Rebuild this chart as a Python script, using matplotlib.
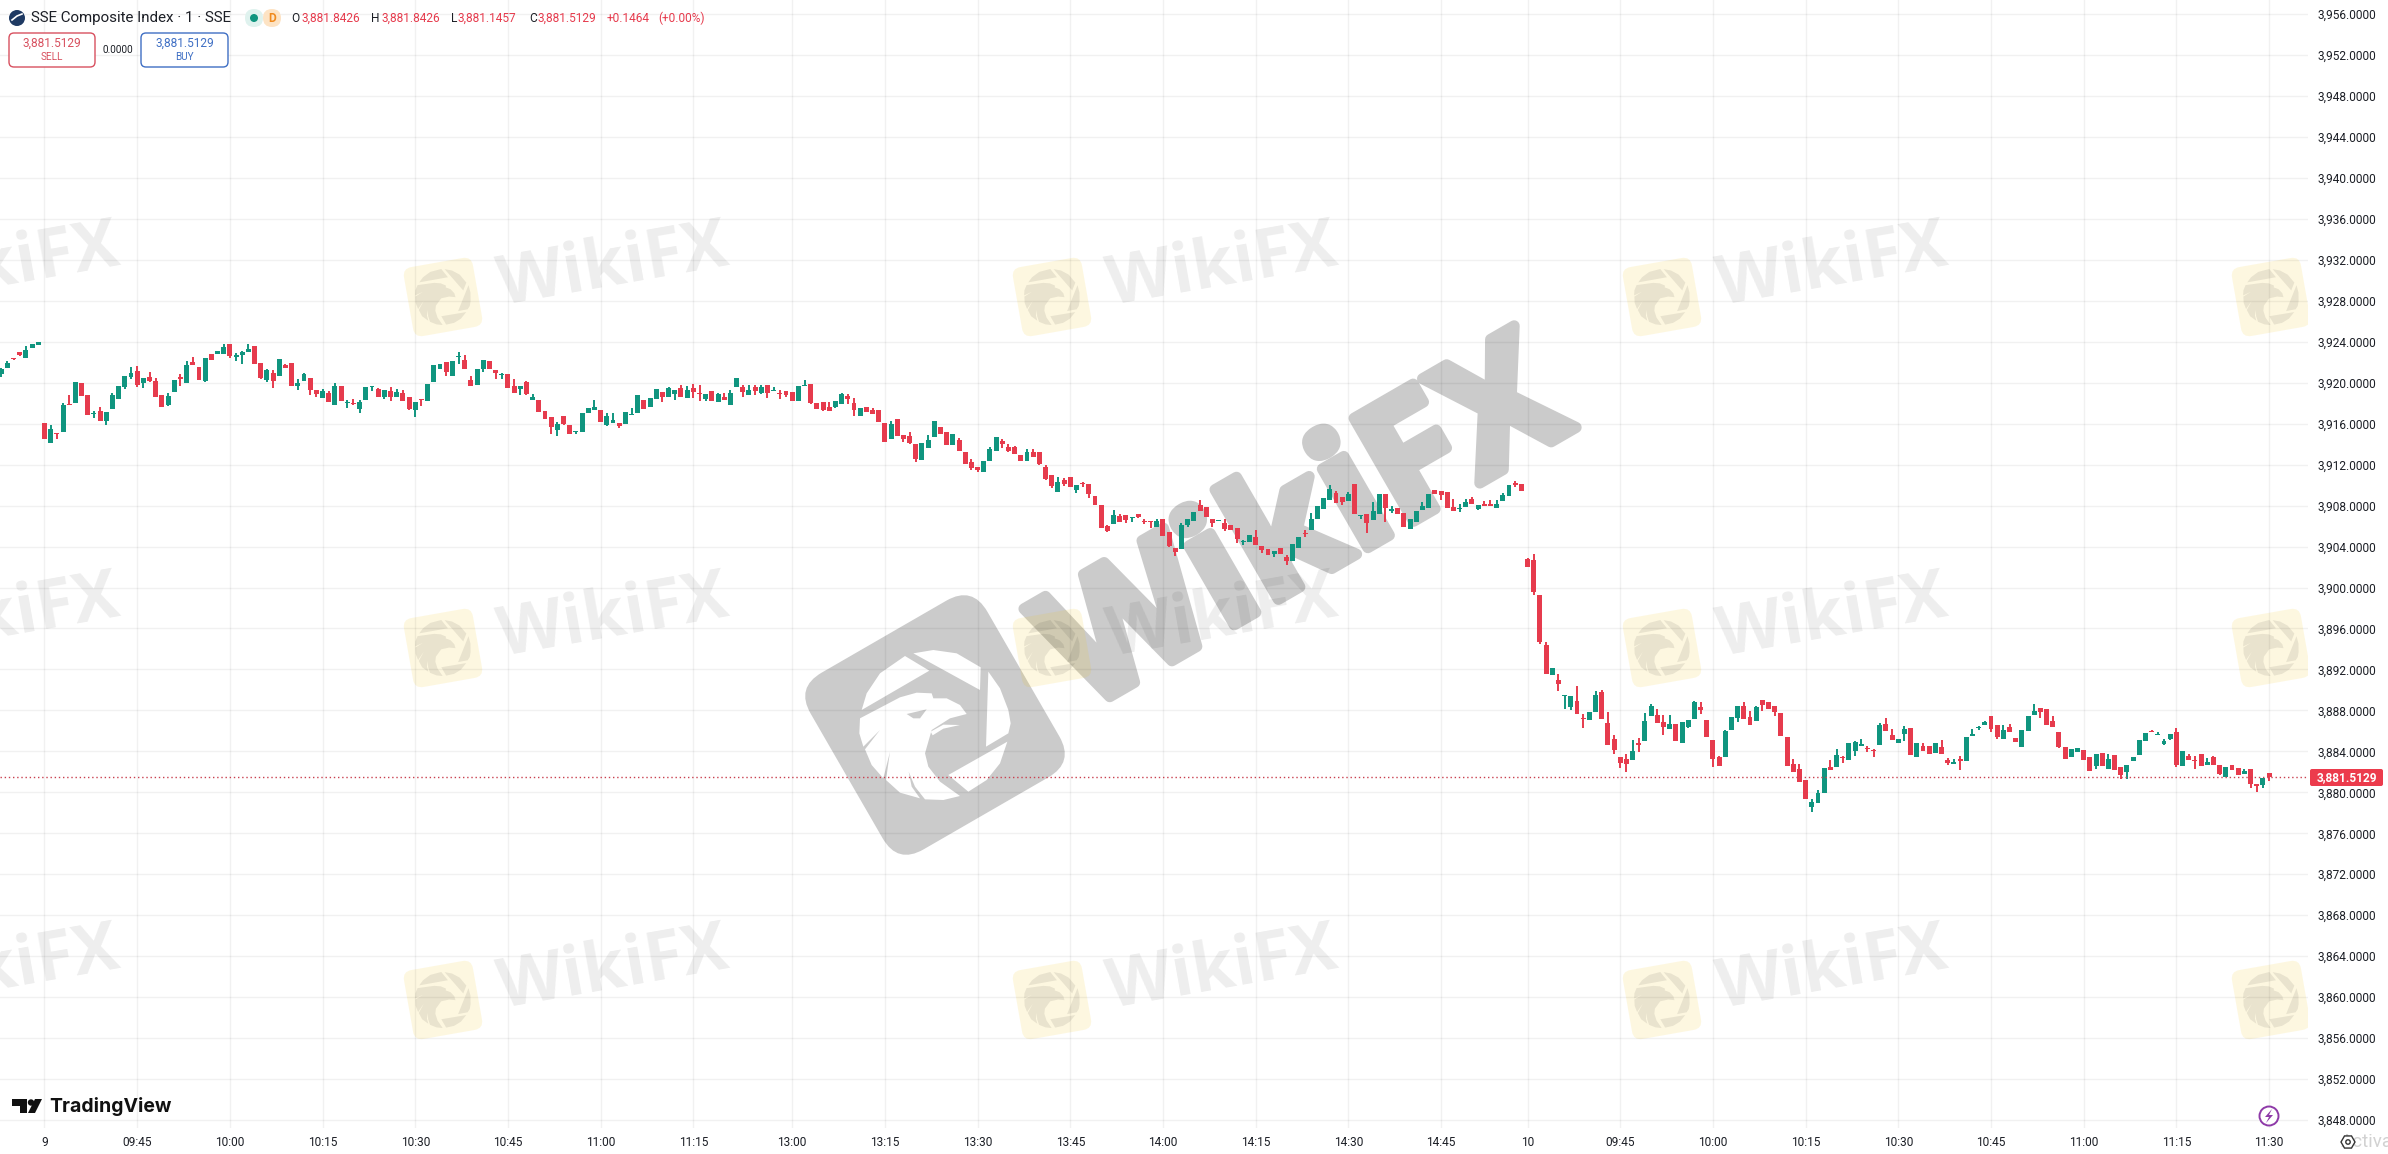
import matplotlib
matplotlib.use('Agg')
import matplotlib.pyplot as plt
import matplotlib.patheffects as pe
import numpy as np
from matplotlib.patches import FancyBboxPatch, Circle, Polygon
from matplotlib.transforms import Affine2D

opens = [
    3920.8, 3921.4, 3922.4, 3923.0, 3922.4, 3923.4, 3923.7,
    3916.1, 3914.1, 3915.1, 3915.2, 3917.85, 3918.0, 3920.0, 3918.75, 3916.9, 3917.2,
    3916.3, 3917.4, 3918.4, 3919.6, 3920.6, 3921.1, 3920.0, 3920.6, 3920.2, 3918.75,
    3917.8, 3919.1, 3920.5, 3920.0, 3922.0, 3921.5, 3920.2, 3922.8, 3922.85, 3922.8,
    3923.8, 3922.55, 3922.7, 3923.0, 3923.55, 3921.95, 3920.25, 3920.95, 3920.65, 3921.7,
    3921.95, 3919.65, 3920.15, 3920.5, 3919.25, 3918.55, 3918.95, 3917.8, 3919.7, 3918.0,
    3917.95, 3917.4, 3918.3, 3919.55, 3919.35, 3918.6, 3919.15, 3918.6, 3918.95, 3918.6,
    3917.3, 3918.4, 3918.2, 3920.05, 3921.3, 3922.05, 3920.65, 3922.5, 3922.25, 3920.3,
    3919.75, 3921.3, 3922.15, 3921.2, 3920.75, 3920.8, 3919.7, 3919.35, 3920.05, 3918.3,
    3918.35, 3917.2, 3916.65, 3915.35, 3916.7, 3915.9, 3915.2, 3915.2, 3917.05, 3917.3,
    3917.35, 3915.9, 3916.05, 3916.05, 3915.95, 3916.8, 3917.05, 3918.35, 3917.6, 3918.45,
    3919.1, 3918.65, 3918.9, 3919.45, 3918.55, 3919.5, 3918.9, 3918.45, 3919.2, 3918.15,
    3918.6, 3917.8, 3919.55, 3919.6, 3918.75, 3919.6, 3919.0, 3919.75, 3919.2, 3919.0,
    3919.2, 3919.1, 3918.25, 3919.65, 3919.9, 3918.05, 3918.15, 3917.65, 3917.65, 3917.9,
    3918.7, 3918.0, 3916.75, 3917.6, 3917.35, 3917.35, 3916.05, 3914.55, 3916.5, 3914.9,
    3914.8, 3914.0, 3912.45, 3913.65, 3914.7, 3915.65, 3915.2, 3913.95, 3914.45, 3913.25,
    3912.25, 3911.75, 3911.3, 3912.4, 3913.35, 3914.35, 3913.75, 3913.75, 3912.95, 3912.4,
    3913.25, 3913.25, 3911.8, 3911.0, 3909.35, 3910.5, 3910.8, 3909.5, 3910.15, 3910.1,
    3908.95, 3908.05, 3906.05, 3906.2, 3907.0, 3907.05, 3906.75, 3907.15, 3906.5, 3906.45,
    3905.95, 3906.7, 3905.4, 3903.85, 3903.75, 3906.1, 3906.5, 3908.05, 3907.85, 3906.7,
    3906.45, 3906.3, 3906.1, 3905.8, 3904.45, 3904.45, 3904.95, 3904.05, 3903.75, 3903.25,
    3903.85, 3902.95, 3902.6, 3903.85, 3905.3, 3905.6, 3906.7, 3907.65, 3908.55, 3909.2,
    3908.85, 3908.4, 3910.1, 3906.95, 3907.15, 3906.6, 3907.15, 3909.15, 3907.5, 3907.75,
    3907.25, 3905.7, 3906.4, 3907.55, 3907.75, 3909.5, 3909.4, 3909.3, 3907.85, 3907.65,
    3907.85, 3908.65, 3907.65, 3908.15, 3908.05, 3907.75, 3908.45, 3908.95, 3910.15, 3910.1,
    3902.75, 3902.65, 3899.25, 3894.35, 3891.45, 3890.95, 3889.4, 3888.3, 3888.9, 3887.2,
    3887.05, 3887.85, 3889.8, 3886.75, 3885.2, 3883.45, 3883.25, 3883.15, 3884.8, 3885.0,
    3887.45, 3887.55, 3886.85, 3886.15, 3886.65, 3884.8, 3886.35, 3887.15, 3888.3, 3887.05,
    3885.1, 3883.45, 3883.45, 3886.05, 3887.25, 3888.4, 3887.35, 3886.95, 3889.0, 3888.8,
    3888.4, 3887.75, 3885.4, 3882.75, 3882.25, 3881.2, 3878.55, 3878.95, 3879.9, 3882.45,
    3882.45, 3883.45, 3883.15, 3884.0, 3884.5, 3884.25, 3884.1, 3884.6, 3886.65, 3885.6,
    3884.85, 3885.7, 3886.3, 3883.45, 3884.5, 3884.5, 3883.85, 3884.45, 3883.2, 3882.75,
    3883.25, 3883.05, 3885.5, 3886.3, 3886.55, 3887.45, 3886.55, 3885.2, 3886.4, 3885.35,
    3884.45, 3886.0, 3887.55, 3888.25, 3888.15, 3886.95, 3885.9, 3884.4, 3883.45, 3883.95,
    3884.15, 3883.45, 3882.55, 3883.85, 3882.25, 3883.65, 3882.45, 3882.0, 3883.05, 3883.65,
    3885.0, 3886.0, 3885.55, 3884.7, 3885.2, 3885.9, 3882.55, 3883.55, 3883.15, 3883.75,
    3882.65, 3883.45, 3882.65, 3881.5, 3882.65, 3882.35, 3881.8, 3882.25, 3880.8, 3880.7,
    3881.8426,
]
highs = [
    3921.4, 3922.1, 3922.4, 3923.0, 3923.6, 3923.8, 3924.0,
    3916.1, 3915.9, 3915.1, 3918.0, 3918.75, 3920.1, 3920.0, 3918.75, 3917.2, 3917.65,
    3917.1, 3918.95, 3919.7, 3920.7, 3921.5, 3921.6, 3920.5, 3921.0, 3920.5, 3918.75,
    3919.0, 3920.3, 3920.85, 3922.1, 3922.5, 3921.5, 3922.45, 3922.8, 3923.1, 3923.8,
    3923.8, 3922.9, 3923.05, 3923.8, 3923.55, 3921.95, 3921.35, 3921.2, 3922.3, 3921.85,
    3921.95, 3920.4, 3920.9, 3920.5, 3919.25, 3919.4, 3919.2, 3920.0, 3919.7, 3918.3,
    3918.4, 3918.3, 3919.55, 3919.6, 3919.5, 3919.25, 3919.55, 3919.4, 3919.25, 3918.6,
    3918.1, 3918.4, 3919.9, 3921.7, 3921.8, 3922.05, 3922.15, 3922.95, 3922.75, 3920.7,
    3921.3, 3922.2, 3922.15, 3921.2, 3920.95, 3920.8, 3920.4, 3919.7, 3920.15, 3918.85,
    3918.35, 3917.2, 3916.65, 3916.15, 3916.7, 3915.9, 3915.3, 3917.05, 3917.5, 3918.35,
    3917.35, 3917.0, 3917.0, 3916.05, 3917.15, 3917.5, 3918.75, 3918.35, 3918.5, 3919.4,
    3919.1, 3919.6, 3919.3, 3919.75, 3919.7, 3919.85, 3919.75, 3918.9, 3919.2, 3919.0,
    3919.0, 3919.3, 3920.45, 3919.75, 3919.75, 3919.75, 3919.75, 3919.75, 3919.6, 3919.25,
    3919.2, 3919.1, 3919.7, 3920.3, 3919.9, 3918.05, 3918.15, 3918.15, 3918.25, 3919.0,
    3918.9, 3918.5, 3917.55, 3917.6, 3917.5, 3917.35, 3916.05, 3916.3, 3916.5, 3914.9,
    3915.2, 3914.0, 3914.1, 3914.9, 3916.3, 3915.65, 3915.2, 3915.0, 3914.6, 3913.25,
    3912.55, 3911.75, 3912.4, 3913.75, 3914.7, 3914.55, 3914.05, 3913.85, 3912.95, 3913.55,
    3913.55, 3913.25, 3912.0, 3911.0, 3910.8, 3910.7, 3910.8, 3910.0, 3910.35, 3910.1,
    3908.95, 3908.05, 3906.15, 3907.55, 3907.15, 3907.05, 3906.85, 3907.15, 3906.7, 3906.45,
    3906.65, 3906.7, 3905.4, 3903.85, 3906.25, 3906.7, 3907.35, 3908.55, 3907.85, 3906.7,
    3906.5, 3906.65, 3906.1, 3905.8, 3904.65, 3905.1, 3905.6, 3904.05, 3903.75, 3903.55,
    3903.85, 3903.15, 3904.25, 3904.95, 3905.6, 3907.25, 3907.95, 3908.75, 3910.0, 3909.4,
    3908.85, 3909.3, 3910.1, 3907.05, 3907.15, 3908.35, 3909.15, 3909.15, 3907.95, 3907.75,
    3907.25, 3906.7, 3907.45, 3908.35, 3909.15, 3909.5, 3909.4, 3909.3, 3908.65, 3908.15,
    3908.65, 3908.8, 3908.05, 3908.45, 3908.55, 3908.55, 3909.2, 3910.0, 3910.4, 3910.1,
    3902.85, 3903.25, 3899.25, 3894.65, 3892.1, 3891.55, 3889.45, 3889.45, 3890.35, 3887.65,
    3887.85, 3889.85, 3890.0, 3887.85, 3885.6, 3883.45, 3883.75, 3885.1, 3885.3, 3887.75,
    3888.6, 3888.1, 3887.55, 3887.55, 3886.65, 3886.85, 3887.05, 3888.9, 3888.8, 3887.05,
    3885.1, 3883.55, 3886.05, 3887.35, 3888.4, 3888.8, 3887.95, 3888.4, 3889.0, 3888.8,
    3888.4, 3887.75, 3885.4, 3883.25, 3882.75, 3881.2, 3879.35, 3880.2, 3882.35, 3883.15,
    3884.2, 3883.55, 3884.8, 3885.0, 3885.2, 3884.5, 3884.2, 3886.75, 3887.25, 3886.15,
    3885.2, 3886.5, 3886.3, 3884.8, 3884.8, 3884.5, 3884.8, 3885.1, 3883.35, 3883.3,
    3883.55, 3885.4, 3886.2, 3886.5, 3886.95, 3887.45, 3886.55, 3886.55, 3886.65, 3885.35,
    3886.1, 3887.45, 3888.6, 3888.25, 3888.15, 3887.45, 3885.9, 3884.4, 3884.25, 3884.3,
    3884.15, 3883.45, 3883.75, 3883.85, 3883.75, 3883.65, 3882.45, 3882.65, 3883.45, 3885.1,
    3885.8, 3886.05, 3885.85, 3885.2, 3885.7, 3886.3, 3884.0, 3883.75, 3883.55, 3883.75,
    3883.35, 3883.55, 3882.65, 3882.45, 3882.65, 3882.35, 3882.25, 3882.25, 3880.8, 3881.4,
    3881.8426,
]
lows = [
    3920.6, 3921.4, 3922.2, 3922.6, 3922.4, 3923.4, 3923.7,
    3914.5, 3914.1, 3914.5, 3915.2, 3917.8, 3918.0, 3918.7, 3916.8, 3916.6, 3916.25,
    3915.9, 3917.4, 3918.4, 3919.4, 3920.4, 3919.55, 3919.5, 3920.05, 3918.6, 3917.6,
    3917.7, 3919.1, 3919.7, 3920.0, 3921.7, 3920.25, 3920.05, 3922.2, 3922.85, 3922.8,
    3922.45, 3922.1, 3921.8, 3923.0, 3921.8, 3920.35, 3920.05, 3919.5, 3920.65, 3921.4,
    3919.65, 3919.25, 3920.15, 3918.8, 3918.6, 3918.55, 3918.1, 3917.8, 3918.2, 3917.5,
    3917.85, 3917.0, 3918.3, 3919.2, 3918.6, 3918.4, 3918.2, 3918.6, 3918.2, 3917.3,
    3916.65, 3917.7, 3918.2, 3920.05, 3921.3, 3920.65, 3920.65, 3921.85, 3921.3, 3919.65,
    3919.75, 3921.0, 3921.3, 3920.4, 3920.4, 3919.45, 3919.0, 3918.8, 3918.75, 3918.3,
    3917.1, 3916.45, 3915.0, 3914.75, 3915.85, 3915.0, 3915.0, 3915.2, 3917.05, 3917.3,
    3916.2, 3915.75, 3916.05, 3915.55, 3915.95, 3916.8, 3917.05, 3917.4, 3917.6, 3918.45,
    3918.1, 3918.65, 3918.35, 3918.65, 3918.55, 3918.55, 3918.25, 3918.25, 3918.25, 3918.15,
    3918.35, 3917.8, 3919.55, 3918.65, 3918.75, 3918.75, 3918.9, 3918.55, 3919.2, 3918.45,
    3918.6, 3918.25, 3918.25, 3919.65, 3917.9, 3917.45, 3917.25, 3917.2, 3917.55, 3917.9,
    3917.95, 3916.7, 3916.75, 3917.15, 3916.95, 3916.2, 3914.25, 3914.55, 3914.75, 3914.25,
    3914.05, 3912.3, 3912.45, 3913.65, 3914.7, 3915.0, 3913.95, 3913.95, 3913.35, 3912.1,
    3911.5, 3911.25, 3911.25, 3912.4, 3913.35, 3913.65, 3913.25, 3913.05, 3912.4, 3912.4,
    3912.75, 3912.0, 3910.5, 3909.75, 3909.35, 3909.9, 3909.8, 3909.25, 3909.85, 3908.75,
    3908.05, 3905.8, 3905.4, 3906.2, 3906.4, 3906.3, 3906.35, 3906.8, 3906.2, 3905.8,
    3905.95, 3905.05, 3904.0, 3903.05, 3903.75, 3905.9, 3906.5, 3907.45, 3906.9, 3905.9,
    3906.45, 3905.5, 3905.6, 3904.35, 3904.15, 3904.45, 3904.15, 3903.35, 3903.15, 3903.0,
    3903.25, 3902.2, 3902.6, 3903.85, 3904.95, 3905.6, 3906.7, 3907.65, 3908.55, 3908.25,
    3908.05, 3908.4, 3907.15, 3906.7, 3905.3, 3906.6, 3907.15, 3906.4, 3907.25, 3907.15,
    3905.9, 3905.7, 3906.4, 3907.55, 3907.75, 3909.15, 3908.55, 3907.75, 3907.45, 3907.35,
    3907.85, 3908.15, 3907.55, 3907.95, 3907.95, 3907.75, 3908.45, 3908.95, 3909.8, 3909.4,
    3902.0, 3899.3, 3894.5, 3891.55, 3891.45, 3889.9, 3888.15, 3888.0, 3887.65, 3886.25,
    3887.05, 3887.85, 3887.15, 3884.6, 3883.75, 3882.35, 3881.95, 3883.15, 3883.9, 3885.0,
    3887.45, 3886.75, 3885.6, 3886.15, 3885.0, 3884.8, 3886.25, 3887.15, 3887.65, 3885.4,
    3882.45, 3882.55, 3883.45, 3886.05, 3886.85, 3887.15, 3886.55, 3886.95, 3887.95, 3888.1,
    3887.45, 3885.5, 3882.55, 3881.95, 3881.0, 3879.35, 3878.05, 3878.95, 3879.9, 3882.15,
    3882.45, 3882.85, 3883.15, 3883.55, 3884.5, 3883.9, 3883.45, 3884.6, 3885.95, 3885.1,
    3884.85, 3885.05, 3883.65, 3883.45, 3884.05, 3883.75, 3883.85, 3883.75, 3882.65, 3882.75,
    3882.2, 3883.05, 3885.5, 3886.1, 3886.55, 3885.9, 3885.2, 3885.2, 3885.9, 3884.9,
    3884.45, 3886.0, 3887.55, 3887.25, 3886.55, 3886.4, 3884.3, 3883.25, 3883.45, 3883.95,
    3883.15, 3882.1, 3882.25, 3882.55, 3882.25, 3882.2, 3881.3, 3881.3, 3883.05, 3883.65,
    3885.0, 3885.9, 3885.55, 3884.6, 3885.1, 3882.45, 3882.55, 3883.15, 3882.25, 3882.55,
    3882.65, 3882.65, 3881.65, 3881.5, 3882.2, 3881.7, 3881.8, 3880.4, 3880.05, 3880.4,
    3881.1457,
]
closes = [
    3921.3, 3921.9, 3922.3, 3922.7, 3923.2, 3923.8, 3924.0,
    3914.5, 3915.5, 3915.0, 3917.8, 3917.8, 3920.1, 3918.7, 3916.8, 3917.0, 3916.25,
    3917.1, 3918.75, 3919.7, 3920.7, 3920.9, 3919.8, 3920.5, 3920.2, 3918.6, 3917.6,
    3918.7, 3920.3, 3920.4, 3921.7, 3921.7, 3920.25, 3922.45, 3922.2, 3923.1, 3923.45,
    3922.6, 3922.6, 3922.95, 3923.25, 3921.8, 3920.5, 3921.2, 3920.15, 3922.3, 3921.4,
    3919.65, 3920.0, 3920.8, 3919.25, 3918.9, 3919.15, 3918.1, 3919.7, 3918.2, 3918.05,
    3917.9, 3918.15, 3919.55, 3919.6, 3918.65, 3919.25, 3918.6, 3919.05, 3918.2, 3917.4,
    3918.1, 3918.3, 3919.9, 3921.7, 3921.8, 3921.05, 3922.15, 3922.5, 3921.3, 3919.65,
    3921.3, 3922.2, 3921.3, 3920.95, 3920.8, 3919.45, 3919.0, 3919.7, 3918.85, 3918.6,
    3917.1, 3916.45, 3915.65, 3916.0, 3915.95, 3915.0, 3915.3, 3917.05, 3917.5, 3917.65,
    3916.2, 3916.7, 3916.4, 3915.75, 3917.15, 3916.95, 3918.75, 3917.4, 3918.5, 3919.4,
    3918.65, 3919.5, 3919.3, 3918.65, 3919.3, 3919.05, 3918.85, 3918.9, 3918.25, 3918.9,
    3918.35, 3919.0, 3920.45, 3919.05, 3919.3, 3919.2, 3919.6, 3919.0, 3919.3, 3918.9,
    3918.75, 3918.25, 3919.7, 3919.75, 3918.05, 3917.45, 3917.35, 3917.2, 3918.25, 3918.9,
    3918.45, 3917.3, 3917.55, 3917.15, 3916.95, 3916.2, 3914.25, 3916.0, 3914.75, 3914.55,
    3914.1, 3912.55, 3914.1, 3914.45, 3916.3, 3915.0, 3913.95, 3915.0, 3913.35, 3912.1,
    3911.7, 3911.5, 3912.4, 3913.55, 3914.65, 3914.05, 3913.35, 3913.05, 3912.4, 3913.25,
    3912.75, 3912.1, 3910.6, 3909.95, 3910.35, 3910.15, 3909.8, 3910.0, 3910.1, 3909.15,
    3908.05, 3905.8, 3905.55, 3907.05, 3906.4, 3906.55, 3906.85, 3906.9, 3906.35, 3906.35,
    3906.5, 3905.05, 3904.1, 3903.45, 3906.1, 3906.7, 3907.35, 3907.45, 3906.9, 3906.3,
    3906.5, 3905.7, 3905.6, 3904.75, 3904.5, 3905.1, 3904.15, 3903.65, 3903.15, 3903.55,
    3903.25, 3902.55, 3904.25, 3904.95, 3905.2, 3906.7, 3907.95, 3908.75, 3909.6, 3908.25,
    3908.35, 3909.15, 3907.15, 3907.05, 3906.3, 3907.45, 3909.15, 3907.75, 3907.6, 3907.15,
    3905.9, 3906.7, 3907.45, 3907.95, 3909.15, 3909.15, 3909.05, 3907.75, 3907.45, 3907.75,
    3908.35, 3908.15, 3908.05, 3907.95, 3908.0, 3908.15, 3909.05, 3910.0, 3910.05, 3909.4,
    3902.0, 3899.55, 3894.65, 3891.55, 3892.1, 3890.6, 3889.45, 3889.45, 3887.65, 3887.15,
    3887.85, 3889.5, 3887.15, 3884.6, 3884.1, 3882.85, 3882.75, 3884.0, 3884.6, 3886.95,
    3888.4, 3886.75, 3886.35, 3886.65, 3885.0, 3886.85, 3887.05, 3888.8, 3888.0, 3885.4,
    3883.25, 3882.55, 3885.95, 3887.35, 3888.4, 3887.15, 3886.55, 3888.3, 3888.5, 3888.1,
    3887.85, 3885.5, 3882.55, 3881.95, 3881.0, 3879.35, 3879.05, 3879.9, 3882.35, 3882.15,
    3883.65, 3883.35, 3884.8, 3884.9, 3884.7, 3884.2, 3884.05, 3886.55, 3885.95, 3885.1,
    3885.2, 3886.2, 3883.65, 3884.8, 3884.05, 3883.75, 3884.8, 3883.75, 3882.85, 3882.95,
    3883.1, 3885.4, 3885.7, 3886.4, 3886.9, 3886.2, 3885.4, 3886.1, 3885.9, 3884.9,
    3886.1, 3887.45, 3887.95, 3887.85, 3886.55, 3886.4, 3884.4, 3883.25, 3884.25, 3884.3,
    3883.15, 3882.1, 3883.75, 3882.55, 3883.25, 3882.2, 3881.7, 3882.65, 3883.45, 3885.1,
    3885.8, 3885.9, 3885.65, 3885.05, 3885.7, 3882.65, 3884.0, 3883.15, 3883.05, 3882.55,
    3882.95, 3882.65, 3881.8, 3882.45, 3882.2, 3881.7, 3882.05, 3880.8, 3880.6, 3881.4,
    3881.5129,
]

first_bar = -7
time_ticks = [0, 15, 30, 45, 60, 75, 90, 105, 121, 136, 151, 166, 181, 196, 211, 226,
              240, 255, 270, 285, 300, 315, 330, 345, 360]
time_labels = ['9', '09:45', '10:00', '10:15', '10:30', '10:45', '11:00', '11:15',
               '13:00', '13:15', '13:30', '13:45', '14:00', '14:15', '14:30', '14:45',
               '10', '09:45', '10:00', '10:15', '10:30', '10:45', '11:00', '11:15', '11:30']
price_ticks = list(range(3848, 3957, 4))
last_price = 3881.5129

# eagle logo outline, three times bigger than the big logo and centred on (405, 405)
logo_shapes = [
    [(185, 360), (200, 310), (240, 250), (315, 198), (388, 242)],
    [(340, 190), (400, 180), (470, 190), (542, 232), (540, 300)],
    [(565, 245), (600, 295), (625, 360), (632, 400), (625, 430), (558, 470)],
    [(622, 455), (600, 520), (560, 570), (505, 605), (445, 555)],
    [(180, 385), (300, 322), (350, 308), (395, 310), (400, 325), (440, 325), (480, 345),
     (500, 372), (450, 385), (395, 420), (375, 490), (385, 530), (420, 575), (480, 618),
     (430, 630), (375, 628), (345, 590), (326, 545), (335, 590), (360, 625), (300, 608),
     (258, 570), (270, 485), (250, 565), (215, 525), (195, 478), (240, 420), (190, 470),
     (178, 430)],
]
logo_eye = [(320, 372), (380, 358), (360, 385), (340, 385)]
logo_mouth = [(392, 425), (430, 404), (480, 405), (430, 416), (398, 436)]

UP = '#10957f'
DOWN = '#e63b4d'
TXT = '#1c1f26'
plt.rcParams['font.family'] = 'Roboto'

W, H = 2388, 1154
PANE_W, PANE_H = 2308, 1128
fig = plt.figure(figsize=(W / 100, H / 100), dpi=100)
pane = [0, 1 - PANE_H / H, PANE_W / W, PANE_H / H]

# watermark layer sits under the candles, in picture pixels
bg = fig.add_axes(pane, zorder=0)
bg.set_xlim(0, PANE_W)
bg.set_ylim(PANE_H, 0)
bg.axis('off')

ax = fig.add_axes(pane, zorder=1)
ax.patch.set_alpha(0)

x = np.arange(len(opens)) + first_bar
o, h, l, c = map(np.array, (opens, highs, lows, closes))
colors = [UP if cc >= oo else DOWN for oo, cc in zip(o, c)]

ax.vlines(x, l, h, colors=colors, linewidth=1.4, zorder=3)
ax.bar(x, np.maximum(np.abs(c - o), 0.12), bottom=np.minimum(o, c), width=0.8,
       color=colors, linewidth=0, zorder=4)
ax.axhline(last_price, color='#c9404f', linewidth=1, linestyle=(0, (1, 2)), zorder=5)

ax.set_xlim(-7.2, 366.3)
ax.set_ylim(3847.22, 3957.37)
ax.set_xticks(time_ticks, time_labels)
ax.set_yticks(price_ticks, [f'{p:,.4f}' for p in price_ticks])
ax.yaxis.tick_right()
ax.tick_params(axis='both', length=0, labelsize=8.6, labelcolor=TXT)
ax.tick_params(axis='x', pad=6)
ax.tick_params(axis='y', pad=7.2)
ax.grid(True, color='black', alpha=0.055, linewidth=1)
ax.set_axisbelow(True)
for s in ax.spines.values():
    s.set_visible(False)

# everything else on top, in picture pixels
ov = fig.add_axes([0, 0, 1, 1], zorder=10)
ov.set_xlim(0, W)
ov.set_ylim(H, 0)
ov.axis('off')
ov.patch.set_alpha(0)


def round_square(cx, cy, side, radius, angle, **kw):
    box = FancyBboxPatch((cx - side / 2, cy - side / 2), side, side,
                         boxstyle=f'round,pad=0,rounding_size={radius}', linewidth=0, **kw)
    box.set_transform(Affine2D().rotate_deg_around(cx, cy, -angle) + bg.transData)
    bg.add_patch(box)


def logo_piece(pts, cx, cy, scale, turn):
    p = (np.array(pts, dtype=float) - 405) / 3 * scale
    a = np.radians(turn)
    rot = np.array([[np.cos(a), -np.sin(a)], [np.sin(a), np.cos(a)]])
    return p @ rot.T + (cx, cy)


# large watermark
GREY = '#cbcbcb'
round_square(935, 725, 204, 30, 30, facecolor=GREY, zorder=1)
bg.add_patch(Circle((935, 725), 74, facecolor=GREY, linewidth=0, zorder=1))
for shape in logo_shapes + [logo_mouth]:
    bg.add_patch(Polygon(logo_piece(shape, 935, 725, 1, 0), facecolor='white', linewidth=0, zorder=2))
bg.add_patch(Polygon(logo_piece(logo_eye, 935, 725, 1, 0), facecolor=GREY, linewidth=0, zorder=3))
bg.text(1308, 532, 'WikiFX', fontsize=120, fontweight='bold', family='Open Sans', color=GREY,
        rotation=30, rotation_mode='anchor', ha='center', va='center', zorder=1, clip_on=True,
        path_effects=[pe.withStroke(linewidth=8, foreground=GREY, capstyle='round', joinstyle='round')])

# small tiled watermark
for cy in (297, 648, 1000):
    for cx in (-166, 443, 1052, 1662, 2271):
        round_square(cx, cy, 70, 9, 10, facecolor='#f5c400', alpha=0.12, zorder=4)
        for shape in logo_shapes:
            bg.add_patch(Polygon(logo_piece(shape, cx, cy, 0.373, 20), facecolor='black', alpha=0.08,
                                 linewidth=0, zorder=5, clip_on=True))
        if cx < 2200:
            bg.text(cx + 170, cy - 30, 'WikiFX', fontsize=49, fontweight='bold', family='Open Sans',
                    color='black', alpha=0.07, rotation=10, rotation_mode='anchor',
                    ha='center', va='center', zorder=5, clip_on=True)

# legend row
ov.add_patch(Circle((17, 18), 8, facecolor='#1f3a63', linewidth=0))
ov.plot([12, 17, 22], [20, 16, 14], color='white', lw=1.2)
ov.text(31, 18, 'SSE Composite Index · 1 · SSE', fontsize=10.9, color=TXT, va='center')
ov.add_patch(FancyBboxPatch((245, 9), 18, 18, boxstyle='round,pad=0,rounding_size=9',
                            facecolor='#dff2ee', linewidth=0))
ov.add_patch(FancyBboxPatch((263, 9), 18, 18, boxstyle='round,pad=0,rounding_size=9',
                            facecolor='#fde3c4', linewidth=0))
ov.add_patch(Circle((254, 18), 4, facecolor=UP, linewidth=0))
ov.text(272, 18, 'D', fontsize=8.6, color='#f08a1d', ha='center', va='center', fontweight='bold')
for px, s, col in [(291, 'O', TXT), (301, '3,881.8426', DOWN), (371, 'H', TXT), (381, '3,881.8426', DOWN),
                   (451, 'L', TXT), (458, '3,881.1457', DOWN), (529, 'C', TXT), (537, '3,881.5129', DOWN),
                   (607, '+0.1464', DOWN), (658, '(+0.00%)', DOWN)]:
    ov.text(px, 18, s, fontsize=8.6, color=col, va='center')

# sell / buy
for x0, x1, col, word in [(9, 95, '#d8505f', 'SELL'), (141, 228, '#3f6fc4', 'BUY')]:
    ov.add_patch(FancyBboxPatch((x0, 33), x1 - x0, 34, boxstyle='round,pad=0,rounding_size=5',
                                facecolor='white', edgecolor=col, linewidth=1))
    ov.text((x0 + x1) / 2, 43, '3,881.5129', fontsize=8.6, color=col, ha='center', va='center')
    ov.text((x0 + x1) / 2, 57, word, fontsize=7.2, color=col, ha='center', va='center')
ov.text(118, 50, '0.0000', fontsize=7.2, color=TXT, ha='center', va='center')

# price tag
ov.add_patch(FancyBboxPatch((2310, 769), 73, 17, boxstyle='round,pad=0,rounding_size=2',
                            facecolor='#ec3b4c', linewidth=0, zorder=8))
ov.text(2346.5, 777.5, '3,881.5129', fontsize=8.6, color='white', fontweight='bold',
        ha='center', va='center', zorder=9)

# TradingView logo
ov.add_patch(Polygon([(12, 1099), (27, 1099), (27, 1113), (20, 1113), (20, 1106), (12, 1106)],
                     facecolor='#111111', linewidth=0))
ov.add_patch(Circle((31, 1102.5), 3.2, facecolor='#111111', linewidth=0))
ov.add_patch(Polygon([(35, 1099), (42, 1099), (35, 1113), (28, 1113)], facecolor='#111111', linewidth=0))
ov.text(49, 1107, 'TradingView', fontsize=14, fontweight='bold', color='#111111', va='center',
        family='Inter')

# lightning badge and corner bits
ov.add_patch(Circle((2269, 1116), 9.5, facecolor='white', edgecolor='#8e3aa8', linewidth=1.4))
ov.add_patch(Polygon([(2272, 1109), (2265, 1117), (2269, 1117), (2266, 1123), (2273, 1115), (2269, 1115)],
                     facecolor='#8e3aa8', linewidth=0))
ov.text(2341, 1142, 'Activa', fontsize=13.5, color='#d2d2d2', va='center', zorder=1)
ang = np.radians(np.arange(0, 360, 60))
ov.add_patch(Polygon(np.c_[2348 + 7 * np.cos(ang), 1142 + 7 * np.sin(ang)], facecolor='white',
                     edgecolor='#333333', linewidth=1, zorder=2))
ov.add_patch(Circle((2348, 1142), 2.2, facecolor='white', edgecolor='#333333', linewidth=1, zorder=3))

fig.savefig('out.png', dpi=100, facecolor='white')
